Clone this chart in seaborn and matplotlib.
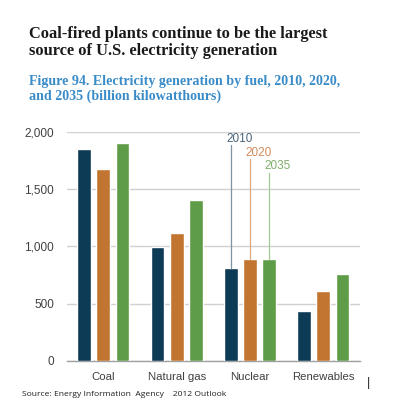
import matplotlib
matplotlib.use("Agg")
import matplotlib.pyplot as plt
import seaborn as sns
import pandas as pd
import numpy as np

categories = ["Coal", "Natural gas", "Nuclear", "Renewables"]
years = ["2010", "2020", "2035"]
values_2010 = [1854, 992, 808, 432]
values_2020 = [1674, 1114, 889, 612]
values_2035 = [1901, 1403, 889, 761]
yticks = [0, 500, 1000, 1500, 2000]
ytick_labels = ["0", "500", "1,000", "1,500", "2,000"]
label_values = [1936, 1819, 1703]
line_tops = [1886, 1761, 1639]

colors = ["#0D3A55", "#C27530", "#5E9C47"]
label_colors = ["#4A6377", "#D08A5A", "#7FAF6A"]
line_colors = ["#7F93A3", "#E0A880", "#A3C895"]

rows = []
for yr, vals in zip(years, [values_2010, values_2020, values_2035]):
    for c, v in zip(categories, vals):
        rows.append({"fuel": c, "year": yr, "value": v})
df = pd.DataFrame(rows)

sns.set_theme(style="white")
plt.rcParams["font.family"] = ["Liberation Sans", "DejaVu Sans"]

fig = plt.figure(figsize=(4.0, 4.18), dpi=100)
ax = fig.add_axes([66.7 / 400, (418 - 360.7) / 418, (360 - 66.7) / 400, (360.7 - 132) / 418])

sns.barplot(data=df, x="fuel", y="value", hue="year", order=categories, hue_order=years,
            palette=colors, width=0.78, gap=0.28, saturation=1, ax=ax, legend=False,
            errorbar=None, zorder=3)

ax.set_ylim(0, 2000)
ax.set_xlim(-0.5, 3.5)
ax.set_yticks(yticks)
ax.set_yticklabels(ytick_labels)
ax.yaxis.grid(True, color="#D0D0D0", linewidth=1.0, zorder=0)
ax.set_axisbelow(True)
for s in ["top", "right", "left"]:
    ax.spines[s].set_visible(False)
ax.spines["bottom"].set_color("#A0A0A0")
ax.spines["bottom"].set_linewidth(1.0)
ax.set_xlabel("")
ax.set_ylabel("")
ax.tick_params(axis="y", length=0, pad=9, labelsize=8.5, labelcolor="#404040")
ax.tick_params(axis="x", which="major", length=0, pad=8, labelsize=8.2, labelcolor="#404040")
ax.set_xticks(np.arange(-0.5, 4.0, 1.0), minor=True)
ax.tick_params(axis="x", which="minor", length=4, color="#A0A0A0", width=1.0, direction="out")

# labels on nuclear bars
nuc_patches = [c.patches[2] for c in ax.containers]
for p, yr, ly, lt, lc, lnc in zip(nuc_patches, years, label_values, line_tops, label_colors, line_colors):
    xc = p.get_x() + p.get_width() / 2
    ax.plot([xc, xc], [p.get_height(), lt], color=lnc, linewidth=0.9, zorder=4)
    ax.annotate(yr, xy=(xc, ly), xytext=(-3, 0), textcoords="offset points",
                ha="left", va="center", fontsize=8.5, color=lc)

fig.text(29 / 400, 1 - 42.5 / 418, "Coal-fired plants continue to be the largest\nsource of U.S. electricity generation",
         family=["Liberation Serif", "DejaVu Serif"], fontweight="bold", fontsize=11.8,
         color="#1A1A1A", va="center", ha="left", linespacing=1.12)
fig.text(29 / 400, 1 - 89 / 418, "Figure 94. Electricity generation by fuel, 2010, 2020,\nand 2035 (billion kilowatthours)",
         family=["Liberation Serif", "DejaVu Serif"], fontweight="bold", fontsize=10.1,
         color="#3A8CC8", va="center", ha="left", linespacing=1.15)
fig.text(21.7 / 400, 1 - 395 / 418, "Source: Energy Information  Agency    2012 Outlook",
         family=["Open Sans", "DejaVu Sans"], fontsize=6.1, color="#202020", va="center", ha="left")
fig.text(368 / 400, 1 - 383 / 418, "|", family=["Liberation Sans"], fontsize=9, color="#202020",
         va="center", ha="center")

fig.savefig("out.png", dpi=100)
